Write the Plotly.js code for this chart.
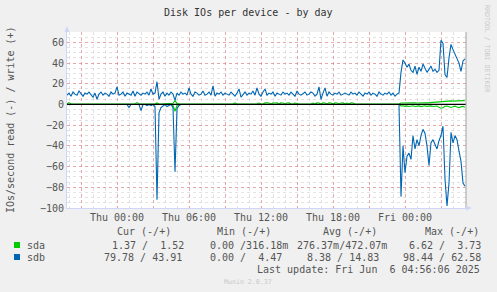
<!DOCTYPE html>
<html><head><meta charset="utf-8">
<script src="https://cdn.plot.ly/plotly-3.0.1.min.js"></script>
<style>html,body{margin:0;padding:0;background:#F0F0F0;}#chart{width:497px;height:292px;}</style>
</head><body><div id="chart"></div>
<script>
// ---- data (10-minute samples starting Wed 2025-06-04 19:50) ----
const startTime = Date.UTC(2025, 5, 4, 19, 50, 0);
const stepMinutes = 10;

const sdbWrite = [
  9,11,8,12,10,9,13,10,8,11,
  10,12,9,7,11,5,10,12,9,11,
  10,8,12,10,11,17,9,10,12,8,
  11,10,9,13,8,12,10,9,11,10,
  12,9,15,10,11,22,5,10,12,8,
  11,9,12,10,4,11,9,12,10,11,
  9,16,10,8,12,11,9,10,13,9,
  10,12,9,18,8,11,10,12,9,11,
  10,9,12,10,8,11,15,7,10,12,
  9,11,10,13,9,16,10,8,12,15,
  9,11,10,12,8,11,10,9,12,10,
  11,9,12,10,8,13,10,9,11,12,
  9,10,12,11,8,10,17,5,11,16,
  8,12,10,9,11,10,12,9,10,11,
  10,9,12,10,11,9,12,10,8,11,
  10,12,9,11,10,8,12,10,9,11,
  10,12,9,11,8,10,11,
  31,43,40,36,39,33,31,37,29,36,32,39,35,31,34,37,32,34,31,33,
  62,59,29,26,45,58,53,48,44,40,32,42,44
];
const sdbRead = [
  0,0,0,0,0,0,0,0,0,0,
  0,0,0,0,0,0,0,0,0,0,
  0,0,0,0,0,0,0,0,0,0,
  0,3,0,0,0,0,0,6,0,0,
  1,0,1,0,2,92,8,3,1,0,
  2,1,0,3,65,4,1,0,0,0,
  0,0,0,0,0,0,0,0,0,0,
  0,0,0,0,0,0,0,0,0,0,
  0,0,0,0,0,0,0,0,0,0,
  0,0,0,0,0,0,0,0,0,0,
  0,0,0,0,0,0,0,0,0,0,
  0,0,0,0,0,0,0,0,0,0,
  0,0,0,0,0,0,0,0,0,0,
  0,0,0,0,0,0,0,0,0,0,
  0,0,0,0,0,0,0,0,0,0,
  0,0,0,0,0,0,0,0,0,0,
  0,0,0,0,0,0,0,
  89,40,66,50,47,53,30,43,34,40,30,24,28,40,59,37,34,38,43,35,
  30,21,72,98,76,27,37,30,34,45,55,76,79
];
const sdaWrite = [
  0.5,1.8,0.4,0.4,0.5,0.4,0.4,0.5,0.4,0.4,
  0.4,0.5,0.4,0.4,0.4,0.5,0.4,0.4,0.4,0.5,
  0.4,0.4,0.5,0.4,0.4,0.5,0.4,0.4,0.4,0.4,
  0.5,0.4,0.4,0.4,0.5,1.8,0.4,0.4,0.5,0.4,
  0.4,0.5,0.4,0.4,0.5,1.5,0.4,0.4,0.5,0.4,
  0.4,0.5,0.4,1.2,3.7,1.0,0.4,0.5,0.4,0.4,
  0.4,0.5,0.4,0.4,0.4,0.5,0.4,0.4,0.4,0.5,
  0.4,0.4,0.5,0.4,0.4,0.4,0.5,0.4,0.4,0.4,
  0.5,0.4,0.4,0.4,1.6,0.4,0.4,0.5,0.4,0.4,
  0.4,0.5,0.4,0.4,0.4,0.5,1.4,0.4,0.4,1.5,
  1.5,1.4,0.5,1.5,1.4,1.5,0.4,1.5,1.4,0.5,
  1.4,1.5,0.4,0.4,1.4,0.5,0.4,0.4,0.5,0.4,
  0.4,0.5,0.4,1.4,0.4,1.5,1.4,0.4,1.5,1.4,
  0.5,1.5,1.4,0.4,1.5,1.4,0.5,1.4,1.5,0.4,
  1.4,0.5,1.5,1.4,0.4,0.5,0.4,0.4,0.5,0.4,
  0.4,0.5,0.4,0.4,0.4,0.5,0.4,0.4,0.4,0.5,
  0.4,0.4,0.5,0.4,0.4,0.5,0.4,
  1.4,1.5,1.6,1.4,1.5,1.3,1.6,1.5,1.4,1.6,1.5,1.4,1.6,1.5,1.7,1.9,2.4,2.6,2.8,3.0,
  3.2,3.3,3.0,3.4,3.3,3.5,3.2,3.4,3.6,3.3,3.5,3.7,3.6
];
const sdaRead = [
  0,0,0,0,0,0,0,0,0,0,
  0,0,0,0,0,0,0,0,0,0,
  0,0,0,0,0,0,0,0,0,0,
  0,0,0,0,0,0,0,0,0,0,
  0,0,0,0,0,0,0,0,0,0,
  0,0,0,1,6.6,1,0,0,0,0,
  0,0,0,0,0,0,0,0,0,0,
  0,0,0,0,0,0,0,0,0,0,
  0,0,0,0,0,0,0,0,0,0,
  0,0,0,0,0,0,0,0,0,0,
  0,0,0,0,0,0,0,0,0,0,
  0,0,0,0,0,0,0,0,0,0,
  0,0,0,0,0,0,0,0,0,0,
  0,0,0,0,0,0,0,0,0,0,
  0,0,0,0,0,0,0,0,0,0,
  0,0,0,0,0,0,0,0,0,0,
  0,0,0,0,0,0,0,
  1.5,1.2,1.8,1.4,2.0,1.5,1.3,1.9,1.6,1.4,2.1,1.5,1.3,1.8,1.6,1.4,2.0,1.7,1.5,2.8,
  3.6,3.2,1.8,1.5,2.4,2.9,2.2,1.6,2.5,3.0,2.3,1.9,2.6
];

const xTickTimes = ['2025-06-04 21:00','2025-06-05 00:00','2025-06-05 03:00','2025-06-05 06:00','2025-06-05 09:00',
  '2025-06-05 12:00','2025-06-05 15:00','2025-06-05 18:00','2025-06-05 21:00','2025-06-06 00:00','2025-06-06 03:00'];
const xTickLabels = ['','Thu 00:00','','Thu 06:00','','Thu 12:00','','Thu 18:00','','Fri 00:00',''];
const yTicks = [-100,-80,-60,-40,-20,0,20,40,60];

const seriesNames = ['sda','sdb'];
const seriesColors = ['#00CC00','#0066B3'];
const legendHeaders = ['Cur (-/+)','Min (-/+)','Avg (-/+)','Max (-/+)'];
const legendValues = [
  ['1.37 /  1.52','0.00 /316.18m','276.37m/472.07m','6.62 /  3.73'],
  ['79.78 / 43.91','0.00 /  4.47','8.38 / 14.83','98.44 / 62.58']
];
const titleText = 'Disk IOs per device - by day';
const yTitleText = 'IOs/second read (-) / write (+)';
const lastUpdate = 'Last update: Fri Jun  6 04:56:06 2025';

// ---- build ----
function fmt(ms){ return new Date(ms).toISOString().slice(0,19).replace('T',' '); }
const times = sdbWrite.map((_, i) => fmt(startTime + i*stepMinutes*60000));
const neg = a => a.map(v => -v);

const L = 67, R = 466, T = 32, B = 208, W = 497, H = 292;
const px = x => (x - L)/(R - L);
const py = y => (B - y)/(B - T);
const nb = s => s.replace(/ /g, '\u00A0');
const mono = 'DejaVu Sans Mono';
const txt = '#555555';

const traces = [
  {x: times, y: neg(sdaRead), type:'scatter', mode:'lines', line:{color:seriesColors[0], width:1.1}, hoverinfo:'skip'},
  {x: times, y: sdaWrite, type:'scatter', mode:'lines', line:{color:seriesColors[0], width:1.1}, hoverinfo:'skip'},
  {x: times, y: neg(sdbRead), type:'scatter', mode:'lines', line:{color:seriesColors[1], width:1.1}, hoverinfo:'skip'},
  {x: times, y: sdbWrite, type:'scatter', mode:'lines', line:{color:seriesColors[1], width:1.1}, hoverinfo:'skip'}
];

function ann(text, x, y, o){
  return Object.assign({text: nb(text), xref:'paper', yref:'paper', x: px(x), y: py(y), showarrow:false,
    xanchor:'left', yanchor:'middle', font:{family:mono, size:10, color:txt}}, o||{});
}
const anns = [];
anns.push(ann(titleText, 248, 12, {xanchor:'center', font:{family:mono, size:10, color:'#333'}}));
anns.push(ann(yTitleText, 10, 120, {xanchor:'center', textangle:-90}));
anns.push(ann('RRDTOOL / TOBI OETIKER', 487, 48, {xanchor:'center', textangle:90, font:{family:mono, size:6.6, color:'#C8C8C8'}}));
anns.push(ann('Munin 2.0.37', 248, 282, {xanchor:'center', font:{family:mono, size:6.6, color:'#C8C8C8'}}));
const headerX = [115, 215, 321, 423];
legendHeaders.forEach((h, k) => anns.push(ann(h, headerX[k], 232)));
const valX = [[110, 208, 295, 407],[102, 208, 305, 401]];
const rowY = [245, 257];
seriesNames.forEach((n, r) => {
  anns.push(ann(n, 25, rowY[r]));
  legendValues[r].forEach((v, k) => anns.push(ann(v, valX[r][k], rowY[r])));
});
anns.push(ann(lastUpdate, 482, 269, {xanchor:'right'}));

const shapes = [];
seriesNames.forEach((n, r) => {
  shapes.push({type:'rect', xref:'paper', yref:'paper', x0:px(14), x1:px(20), y0:py(rowY[r]-3), y1:py(rowY[r]+3),
    fillcolor:seriesColors[r], line:{width:0}});
});
// zero rule
shapes.push({type:'line', xref:'paper', yref:'y', x0:0, x1:1, y0:0, y1:0, line:{color:'#000', width:1.3}, layer:'above'});
// right frame line
shapes.push({type:'line', xref:'paper', yref:'paper', x0:1, x1:1, y0:0, y1:1, line:{color:'#A0A0A0', width:1}, layer:'above'});
// arrows
shapes.push({type:'path', xref:'paper', yref:'paper', path:`M ${px(64.5)} ${py(32)} L ${px(69.5)} ${py(32)} L ${px(67)} ${py(26)} Z`, fillcolor:'#CFD6F8', line:{width:0}});
shapes.push({type:'line', xref:'paper', yref:'paper', x0:px(67), x1:px(67), y0:py(32), y1:py(28), line:{color:'#CFD6F8', width:1}});
shapes.push({type:'path', xref:'paper', yref:'paper', path:`M ${px(466)} ${py(205.5)} L ${px(466)} ${py(210.5)} L ${px(472)} ${py(208)} Z`, fillcolor:'#CFD6F8', line:{width:0}});

const layout = {
  width: W, height: H,
  margin: {l: L, r: W - R, t: T, b: H - B, pad: 0},
  paper_bgcolor: '#F0F0F0', plot_bgcolor: '#FFFFFF',
  showlegend: false,
  xaxis: {type:'date', range:['2025-06-04 19:50','2025-06-06 05:05'],
    tickmode:'array', tickvals:xTickTimes, ticktext:xTickLabels,
    showgrid:true, gridcolor:'rgba(230,120,120,0.55)', griddash:'dot', gridwidth:1,
    minor:{dtick:3600000, tick0:'2025-06-05 00:00', showgrid:true, gridcolor:'rgba(190,190,190,0.45)', griddash:'dot', gridwidth:1},
    showline:true, linecolor:'#CFD6F8', linewidth:1, zeroline:false, ticks:'', 
    tickfont:{family:mono, size:10, color:txt}, fixedrange:true},
  yaxis: {range:[-100, 70], tickmode:'array', tickvals:yTicks,
    showgrid:true, gridcolor:'rgba(230,120,120,0.55)', griddash:'dot', gridwidth:1,
    minor:{dtick:5, tick0:0, showgrid:true, gridcolor:'rgba(190,190,190,0.45)', griddash:'dot', gridwidth:1},
    showline:true, linecolor:'#CFD6F8', linewidth:1, zeroline:false, ticks:'',
    tickfont:{family:mono, size:10, color:txt}, fixedrange:true},
  annotations: anns, shapes: shapes
};
Plotly.newPlot('chart', traces, layout, {staticPlot:true, displayModeBar:false});
</script></body></html>
